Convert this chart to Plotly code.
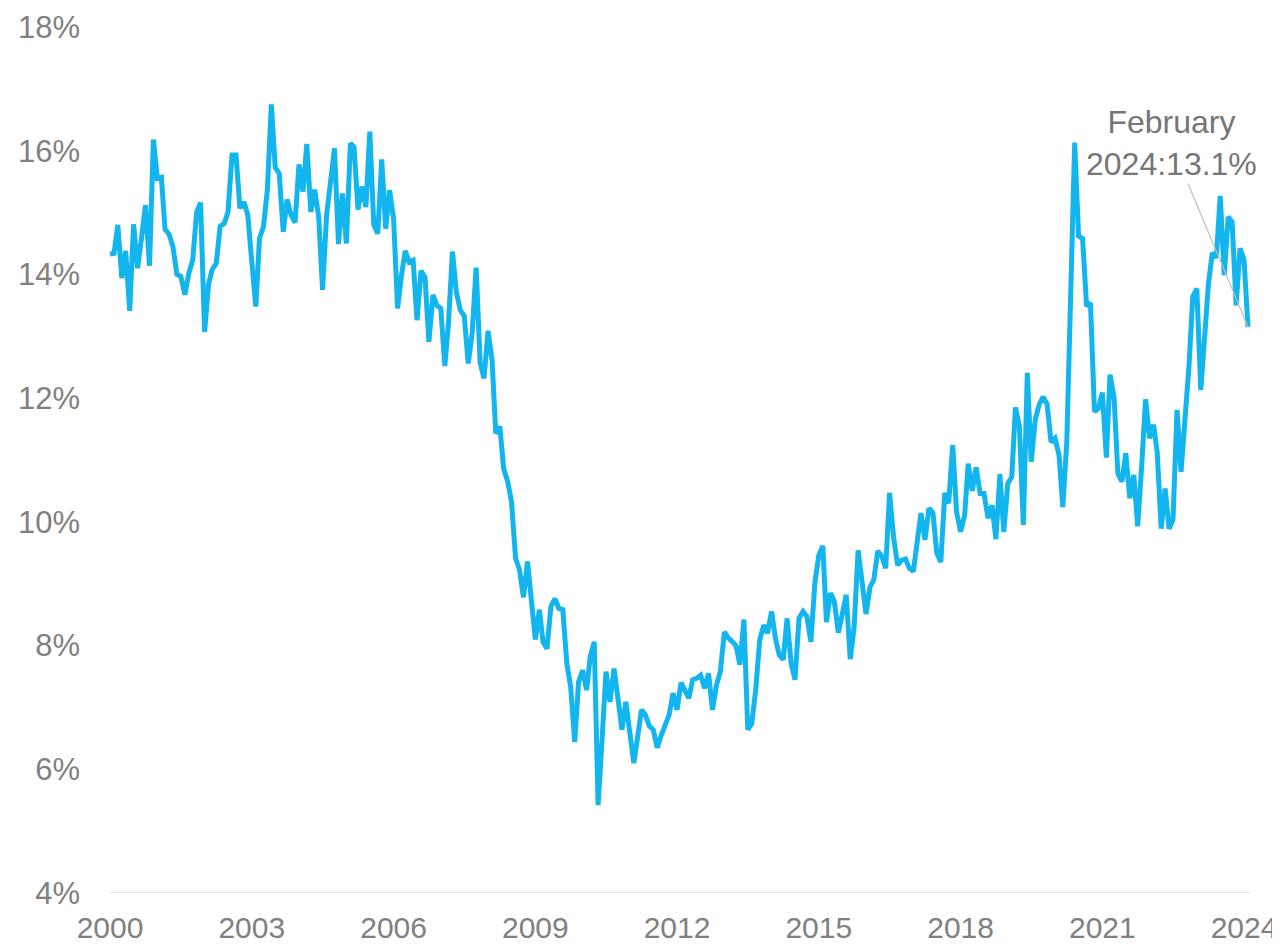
import pandas as pd
import plotly.graph_objects as go

start_month = "2000-01-01"
values = [
    14.33, 14.34, 14.8, 13.94, 14.38, 13.41, 14.81, 14.1, 14.6, 15.12, 14.14, 16.18,
    15.55, 15.57, 14.73, 14.65, 14.45, 14.0, 13.97, 13.67, 14.02, 14.23, 15.01, 15.16,
    13.07, 13.85, 14.08, 14.18, 14.78, 14.82, 15.01, 15.93, 15.93, 15.07, 15.17, 14.96,
    14.2, 13.48, 14.58, 14.77, 15.36, 16.75, 15.73, 15.63, 14.69, 15.21, 14.96, 14.84,
    15.78, 15.34, 16.11, 15.01, 15.37, 14.93, 13.75, 14.96, 15.5, 16.04, 14.49, 15.31,
    14.5, 16.12, 16.06, 15.05, 15.42, 15.09, 16.31, 14.8, 14.66, 15.86, 14.74, 15.36,
    14.9, 13.45, 13.96, 14.38, 14.2, 14.23, 13.26, 14.06, 13.95, 12.91, 13.67, 13.5,
    13.45, 12.52, 13.21, 14.37, 13.72, 13.42, 13.33, 12.56, 13.07, 14.11, 12.57, 12.32,
    13.09, 12.62, 11.43, 11.54, 10.86, 10.65, 10.32, 9.41, 9.22, 8.78, 9.36, 8.74,
    8.1, 8.58, 8.06, 7.95, 8.63, 8.76, 8.6, 8.58, 7.71, 7.33, 6.44, 7.41,
    7.6, 7.28, 7.82, 8.06, 5.42, 6.5, 7.58, 7.09, 7.63, 7.15, 6.64, 7.09,
    6.6, 6.1, 6.5, 6.96, 6.88, 6.7, 6.64, 6.35, 6.55, 6.74, 6.88, 7.23,
    6.96, 7.4, 7.28, 7.15, 7.45, 7.47, 7.52, 7.31, 7.55, 6.96, 7.36, 7.58,
    8.22, 8.12, 8.07, 8.0, 7.69, 8.42, 6.64, 6.74, 7.3, 8.09, 8.33, 8.2,
    8.55, 8.1, 7.85, 7.77, 8.44, 7.71, 7.45, 8.44, 8.55, 8.47, 8.06, 9.0,
    9.46, 9.61, 8.38, 8.85, 8.71, 8.21, 8.5, 8.82, 7.78, 8.3, 9.54, 9.0,
    8.51, 8.95, 9.06, 9.53, 9.45, 9.25, 10.47, 9.75, 9.3, 9.38, 9.4, 9.25,
    9.2, 9.7, 10.14, 9.71, 10.22, 10.15, 9.5, 9.35, 10.47, 10.3, 11.24, 10.16,
    9.84, 10.1, 10.94, 10.5, 10.88, 10.46, 10.46, 10.06, 10.27, 9.72, 10.77, 9.84,
    10.62, 10.73, 11.85, 11.54, 9.95, 12.41, 10.97, 11.65, 11.9, 12.02, 11.9, 11.29,
    11.35, 11.08, 10.24, 11.29, 13.7, 16.13, 14.62, 14.58, 13.49, 13.54, 11.78, 11.83,
    12.09, 11.04, 12.38, 12.02, 10.78, 10.65, 11.11, 10.38, 10.76, 9.93, 10.9, 11.98,
    11.35, 11.57, 11.12, 9.89, 10.54, 9.89, 10.04, 11.81, 10.81, 11.6, 12.5, 13.64,
    13.77, 12.13, 12.9, 13.85, 14.35, 14.27, 15.27, 13.99, 14.93, 14.85, 13.5, 14.42,
    14.24, 13.15,
]
dates = pd.date_range(start_month, periods=len(values), freq="MS")

tick_years = [2000, 2003, 2006, 2009, 2012, 2015, 2018, 2021, 2024]
tick_dates = [f"{y}-01-01" for y in tick_years]
tick_labels = [str(y) for y in tick_years]
y_ticks = [4, 6, 8, 10, 12, 14, 16, 18]
y_labels = [f"{v}%" for v in y_ticks]

annotation_text = "February<br>2024:13.1%"

grey = "#808080"
font_family = "Liberation Sans, Arial"

fig = go.Figure()
fig.add_trace(go.Scatter(
    x=dates, y=values, mode="lines",
    line=dict(color="#12B5EE", width=5),
    hoverinfo="skip", showlegend=False,
))

fig.add_annotation(
    x=dates[-1], y=values[-1], xref="x", yref="y",
    text=annotation_text, showarrow=True, arrowhead=0, arrowwidth=1.2,
    arrowcolor="#bfbfbf", ax=-77, ay=-184,
    font=dict(family=font_family, size=32, color="#767676"),
    align="center",
)

# page body adds an 8px offset, so the figure is sized to fill the rest
fig.update_layout(
    width=1272, height=938,
    margin=dict(l=101, r=29, t=19, b=53, autoexpand=False),
    paper_bgcolor="white", plot_bgcolor="white",
    font=dict(family=font_family, size=31, color=grey),
    xaxis=dict(
        range=["1999-12-24", "2024-02-24"],
        tickvals=tick_dates, ticktext=tick_labels,
        showgrid=False, zeroline=False,
        showline=False, ticks="", automargin=False,
        tickfont=dict(size=30, color=grey),
        ticklabelstandoff=14,
    ),
    yaxis=dict(
        range=[4, 18], tickvals=y_ticks, ticktext=y_labels,
        showgrid=False, zeroline=False, showline=False, ticks="",
        automargin=False,
        tickfont=dict(size=31, color=grey),
        ticklabelstandoff=28,
    ),
    shapes=[dict(type="line", xref="paper", yref="y", x0=0, x1=1, y0=4, y1=4,
                 line=dict(color="#d9d9d9", width=1.5), layer="below")],
)

fig.write_html("out.html")
